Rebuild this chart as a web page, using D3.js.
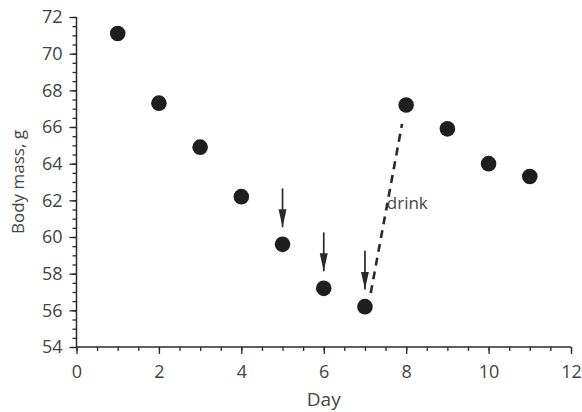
<!DOCTYPE html>
<html>
<head>
<meta charset="utf-8">
<script src="https://cdn.jsdelivr.net/npm/d3@7"></script>
<style>
  html, body { margin: 0; padding: 0; background: #fff; }
  svg { display: block; }
  text { font-family: "Open Sans", "Noto Sans", sans-serif; fill: #444; }
</style>
</head>
<body>
<svg id="chart" width="582" height="412"></svg>
<script>
// ---- data ----
const days = [1, 2, 3, 4, 5, 6, 7, 8, 9, 10, 11];
const bodyMass = [71.1, 67.3, 64.9, 62.2, 59.6, 57.2, 56.2, 67.2, 65.9, 64.0, 63.3];
const arrowDays = [5, 6, 7];
const drinkLine = [[7.14, 56.94], [7.9, 66.16]];
const drinkLabel = { day: 7.53, mass: 61.53, text: "drink" };
const xTicks = [0, 2, 4, 6, 8, 10, 12];
const yTicks = [54, 56, 58, 60, 62, 64, 66, 68, 70, 72];
const xMinor = d3.range(0, 12.01, 0.5);
const yMinor = d3.range(54, 72.01, 0.5);
const xTitle = "Day";
const yTitle = "Body mass, g";

// ---- layout ----
const svg = d3.select("#chart");
const x = d3.scaleLinear().domain([0, 12]).range([76.5, 571]);
const y = d3.scaleLinear().domain([54, 72]).range([347, 17]);
const ink = "#2a2a2a";

// minor ticks
const gxm = svg.append("g").attr("transform", `translate(0,${y(54)})`)
  .call(d3.axisBottom(x).tickValues(xMinor).tickSize(4).tickFormat(""));
const gym = svg.append("g").attr("transform", `translate(${x(0)},0)`)
  .call(d3.axisLeft(y).tickValues(yMinor).tickSize(4).tickFormat(""));

// major axes
const gx = svg.append("g").attr("transform", `translate(0,${y(54)})`)
  .call(d3.axisBottom(x).tickValues(xTicks).tickSize(7).tickPadding(11).tickFormat(d3.format("d")));
const gy = svg.append("g").attr("transform", `translate(${x(0)},0)`)
  .call(d3.axisLeft(y).tickValues(yTicks).tickSize(7).tickPadding(7).tickFormat(d3.format("d")));

[gxm, gym, gx, gy].forEach(g => {
  g.selectAll(".domain").attr("stroke", ink).attr("stroke-width", 1.5);
  g.selectAll(".tick line").attr("stroke", ink).attr("stroke-width", 1.3);
  g.selectAll(".tick text").attr("fill", "#444").attr("font-size", 18)
    .attr("font-family", '"Open Sans", "Noto Sans", sans-serif');
});
gx.selectAll(".domain").attr("d", `M${x(0)},0H${x(12)}`);
gy.selectAll(".domain").attr("d", `M0,${y(54)}V${y(72)}`);
gxm.selectAll(".domain").remove();
gym.selectAll(".domain").remove();

// axis titles
svg.append("text")
  .attr("x", x(6)).attr("y", 406)
  .attr("text-anchor", "middle").attr("font-size", 19)
  .text(xTitle);
svg.append("text")
  .attr("transform", `translate(24,${(y(54) + y(72)) / 2}) rotate(-90)`)
  .attr("text-anchor", "middle").attr("font-size", 17)
  .text(yTitle);

// arrow marker
svg.append("defs").append("marker")
  .attr("id", "ah").attr("markerUnits", "userSpaceOnUse")
  .attr("viewBox", "0 -5 18 10").attr("refX", 18).attr("refY", 0)
  .attr("markerWidth", 18).attr("markerHeight", 10).attr("orient", "auto")
  .append("path").attr("d", "M0,-4L18,0L0,4Z").attr("fill", ink);

const massByDay = new Map(days.map((d, i) => [d, bodyMass[i]]));
svg.append("g").selectAll("line").data(arrowDays).join("line")
  .attr("x1", d => x(d)).attr("x2", d => x(d))
  .attr("y1", d => y(massByDay.get(d) + 3.05))
  .attr("y2", d => y(massByDay.get(d) + 0.93))
  .attr("stroke", ink).attr("stroke-width", 1.7)
  .attr("marker-end", "url(#ah)");

// dashed drink line
svg.append("line")
  .attr("x1", x(drinkLine[0][0])).attr("y1", y(drinkLine[0][1]))
  .attr("x2", x(drinkLine[1][0])).attr("y2", y(drinkLine[1][1]))
  .attr("stroke", ink).attr("stroke-width", 2.6)
  .attr("stroke-dasharray", "8,6");

svg.append("text")
  .attr("x", x(drinkLabel.day)).attr("y", y(drinkLabel.mass))
  .attr("font-size", 17).text(drinkLabel.text);

// points
svg.append("g").selectAll("circle").data(days).join("circle")
  .attr("cx", d => x(d)).attr("cy", (d, i) => y(bodyMass[i]))
  .attr("r", 7.8).attr("fill", "#1e1e1e");
</script>
</body>
</html>
